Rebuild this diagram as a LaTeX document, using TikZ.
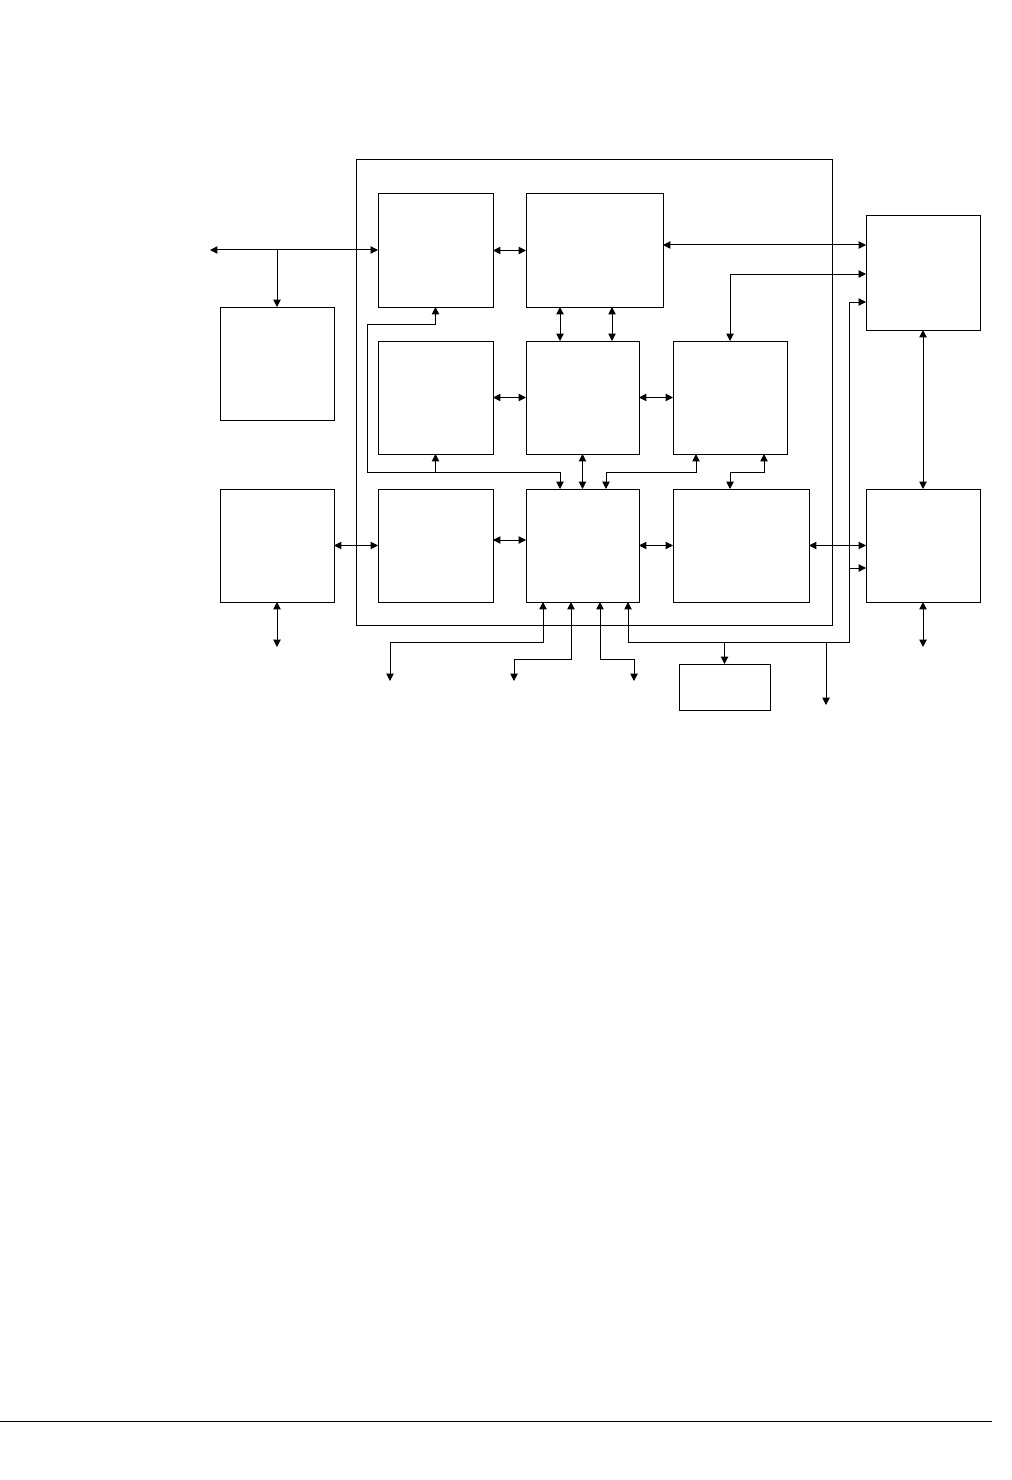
\documentclass[tikz,border=0pt]{standalone}
\usetikzlibrary{arrows.meta}
\begin{document}
\begin{tikzpicture}[x=0.75pt,y=-0.75pt,
  line width=0.75pt,
  >={Triangle[length=5.5pt,width=5.5pt]},
  bx/.style 2 args={draw, rectangle, inner sep=0pt, outer sep=0pt, minimum width=#1*0.75pt, minimum height=#2*0.75pt}]
\useasboundingbox (0,0) rectangle (1012,1480);
% boxes
\node[bx={476}{465}] (outer) at (594,392.5) {};
\node[bx={115}{113}] (A) at (435.5,250.5) {};
\node[bx={137}{113}] (C) at (594.5,250.5) {};
\node[bx={114}{113}] (B) at (277,363.5) {};
\node[bx={115}{113}] (D) at (435.5,397.5) {};
\node[bx={113}{113}] (E) at (582.5,397.5) {};
\node[bx={114}{113}] (F) at (730,397.5) {};
\node[bx={114}{113}] (B2) at (277,545.5) {};
\node[bx={115}{113}] (G) at (435.5,545.5) {};
\node[bx={113}{113}] (H) at (582.5,545.5) {};
\node[bx={136}{113}] (I) at (741,545.5) {};
\node[bx={114}{114}] (R1) at (923,273) {};
\node[bx={114}{113}] (R2) at (923,545.5) {};
\node[bx={91}{46}] (J) at (724.5,687) {};
% free ends
\coordinate (inL) at (210,250);
\coordinate (b2out) at (277,647);
\coordinate (r2out) at (923,647);
\coordinate (o1) at (390,681);
\coordinate (o2) at (514,681);
\coordinate (o3) at (634,681);
\coordinate (o4) at (826,705);
\coordinate (rl1) at (0,1421);
\coordinate (rl2) at (992,1421);
% connectors
\draw[<->] (inL) -- (A.west |- inL);
\draw[->] (B.north |- inL) -- (B.north);
\draw[<->] (A.east) -- (C.west);
\draw[<->] (C.east |- 0,245) -- (R1.west |- 0,245);
\draw[<->] (R1.west |- 0,274) -| (F.north);
\draw[<->] (H.south -| 628,0) |- (849,642) |- (R1.west |- 0,302);
\draw[->] (849,568) -- (R2.west |- 0,568);
\draw[->] (J.north |- 0,642) -- (J.north);
\draw[->] (826,642) -- (o4);
\draw[<->] (C.south -| 560,0) -- (E.north -| 560,0);
\draw[<->] (C.south -| 612,0) -- (E.north -| 612,0);
\draw[<->] (D.east) -- (E.west);
\draw[<->] (E.east) -- (F.west);
\draw[<->] (R1.south) -- (R2.north);
\draw[<->] (A.south) |- (367,324) |- (560,472) -- (H.north -| 560,0);
\draw[->] (D.south |- 0,472) -- (D.south);
\draw[<->] (E.south) -- (H.north);
\draw[<->] (F.south -| 696,0) |- (606,472) -- (H.north -| 606,0);
\draw[<->] (F.south -| 764,0) |- (730,472) -- (I.north -| 730,0);
\draw[<->] (B2.east) -- (G.west);
\draw[<->] (G.east |- 0,540) -- (H.west |- 0,540);
\draw[<->] (H.east) -- (I.west);
\draw[<->] (I.east) -- (R2.west);
\draw[<->] (B2.south) -- (b2out);
\draw[<->] (R2.south) -- (r2out);
\draw[<->] (H.south -| 543,0) |- (390,642) -- (o1);
\draw[<->] (H.south -| 571,0) |- (514,659) -- (o2);
\draw[<->] (H.south -| 600,0) |- (634,659) -- (o3);
\draw (rl1) -- (rl2);
\end{tikzpicture}
\end{document}
